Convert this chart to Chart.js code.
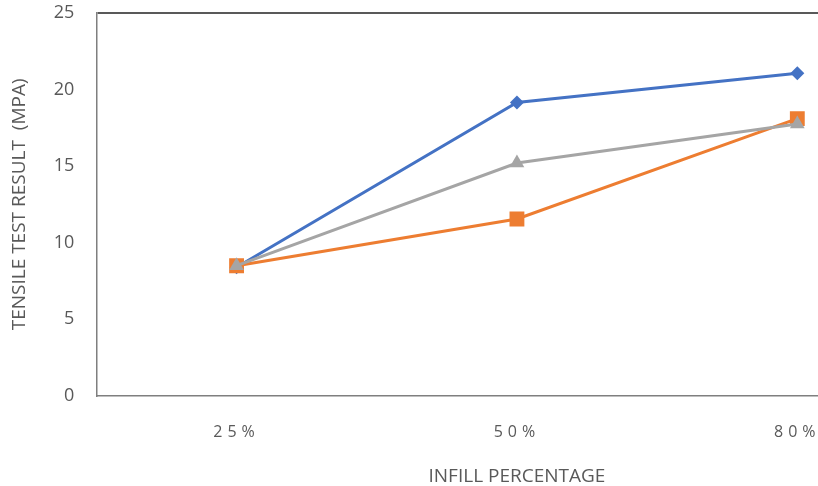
<!DOCTYPE html>
<html>
<head>
<meta charset="utf-8">
<script src="https://cdn.jsdelivr.net/npm/chart.js@4"></script>
<style>
  html, body { margin: 0; padding: 0; background: #fff; overflow: hidden; }
  #wrap { position: relative; width: 948px; height: 486px; }
</style>
</head>
<body>
<div id="wrap"><canvas id="chart"></canvas></div>
<script>
// infill percentage categories
const infill = ['25%', '50%', '80%'];
// tensile test result (MPa), one array per line
const seriesBlue = [8.4, 19.15, 21.05];
const seriesOrange = [8.5, 11.55, 18.1];
const seriesGray = [8.5, 15.2, 17.75];
const yTicks = [0, 5, 10, 15, 20, 25];

const textGray = '#595959';
const font = '"Open Sans", "DejaVu Sans", sans-serif';

const cfg = {
  type: 'line',
  data: {
    labels: infill,
    datasets: [
      {
        data: seriesGray,
        borderColor: '#A5A5A5',
        backgroundColor: '#A5A5A5',
        borderWidth: 3,
        pointStyle: 'triangle',
        pointRadius: 8.5,
        pointBorderWidth: 0
      },
      {
        data: seriesOrange,
        borderColor: '#ED7D31',
        backgroundColor: '#ED7D31',
        borderWidth: 3,
        pointStyle: 'rect',
        pointRadius: 10.5,
        pointBorderWidth: 0
      },
      {
        data: seriesBlue,
        borderColor: '#4472C4',
        backgroundColor: '#4472C4',
        borderWidth: 3,
        pointStyle: 'rectRot',
        pointRadius: 7,
        pointBorderWidth: 0
      }
    ]
  },
  options: {
    responsive: true,
    maintainAspectRatio: false,
    animation: false,
    layout: { padding: { top: 0, right: 3, left: 0, bottom: -2 } },
    plugins: { legend: { display: false }, tooltip: { enabled: false } },
    scales: {
      x: {
        offset: true,
        grid: { display: false, drawTicks: false },
        border: { display: true, color: '#7f7f7f', width: 1.5 },
        ticks: { color: textGray, font: { family: font, size: 16 }, padding: 27 },
        title: {
          display: true,
          text: 'INFILL PERCENTAGE',
          color: textGray,
          font: { family: font, size: 19 },
          padding: { top: -4, bottom: 0 }
        }
      },
      y: {
        min: 0,
        max: 25,
        afterBuildTicks: (s) => { s.ticks = yTicks.map(v => ({ value: v })); },
        grid: {
          // only the top line is visible, the tick marks are just a gap
          color: (c) => (c.tick && c.tick.value === 25 ? '#595959' : 'rgba(0,0,0,0)'),
          lineWidth: 2,
          tickColor: 'rgba(0,0,0,0)',
          tickLength: 20
        },
        border: { display: true, color: '#7f7f7f', width: 1.5 },
        ticks: { color: textGray, font: { family: font, size: 18 }, padding: 2 },
        title: {
          display: true,
          text: 'TENSILE TEST RESULT  (MPA)',
          color: textGray,
          font: { family: font, size: 19 },
          padding: { top: 8, bottom: 21 }
        }
      }
    }
  }
};

const chart = new Chart(document.getElementById('chart'), cfg);

// the x labels in the original are spread out a little
const xScale = chart.scales.x;
const drawXLabels = xScale.drawLabels.bind(xScale);
xScale.drawLabels = function (area) {
  chart.ctx.save();
  chart.ctx.letterSpacing = '5px';
  drawXLabels(area);
  chart.ctx.restore();
};
chart.draw();
</script>
</body>
</html>
